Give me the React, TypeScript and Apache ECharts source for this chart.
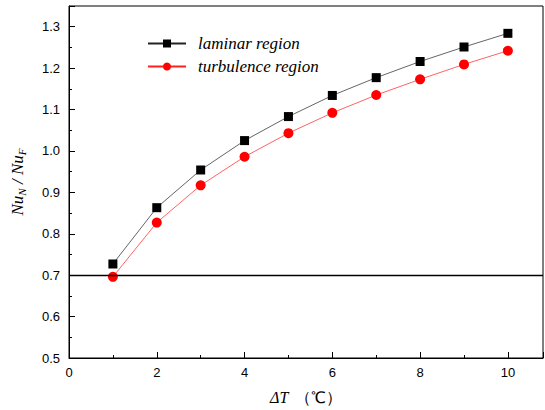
import React, { useEffect, useRef } from "react";
import * as echarts from "echarts";

const xValues = [1, 2, 3, 4, 5, 6, 7, 8, 9, 10];
const laminar = [0.727, 0.863, 0.954, 1.025, 1.083, 1.134, 1.177, 1.216, 1.251, 1.284];
const turbulence = [0.696, 0.827, 0.917, 0.986, 1.043, 1.092, 1.135, 1.173, 1.209, 1.242];
const seriesNames = ["laminar region", "turbulence region"];
const refLineY = 0.7;

export default function App() {
  const ref = useRef<HTMLDivElement>(null);
  useEffect(() => {
    if (!ref.current) return;
    const chart = echarts.init(ref.current, null, { renderer: "svg" });
    const sans = "Liberation Sans";
    const serif = "Liberation Serif";
    chart.setOption({
      animation: false,
      backgroundColor: "#ffffff",
      grid: {
        left: 69,
        right: 2,
        top: 6,
        bottom: 51,
        show: true,
        borderColor: "#000",
        borderWidth: 1,
        backgroundColor: "transparent",
      },
      legend: {
        orient: "vertical",
        left: 142,
        top: 30,
        itemWidth: 38,
        itemHeight: 10,
        itemGap: 6,
        data: seriesNames,
        textStyle: {
          fontFamily: serif,
          fontStyle: "italic",
          fontSize: 17,
          color: "#000",
          padding: [0, 0, 0, 7],
        },
      },
      xAxis: {
        type: "value",
        min: 0,
        max: 10.8,
        interval: 2,
        name: "{it|ΔT}  {n|（℃）}",
        nameLocation: "middle",
        nameGap: 31,
        nameTextStyle: {
          rich: {
            it: { fontFamily: serif, fontStyle: "italic", fontSize: 16, color: "#000" },
            n: { fontFamily: serif, fontSize: 16, color: "#000" },
          },
        },
        axisLine: { show: true, lineStyle: { color: "#000", width: 1 } },
        axisTick: { show: true, inside: true, length: 6, lineStyle: { color: "#000" } },
        minorTick: { show: true, splitNumber: 2, length: 3, lineStyle: { color: "#000" } },
        splitLine: { show: false },
        axisLabel: { showMaxLabel: false, fontFamily: sans, fontSize: 13, color: "#000", margin: 8 },
      },
      yAxis: {
        type: "value",
        min: 0.5,
        max: 1.35,
        interval: 0.1,
        name: "{it|Nu}{sub|N}{it| / Nu}{sub|F}",
        nameLocation: "middle",
        nameGap: 42,
        nameRotate: 90,
        nameTextStyle: {
          rich: {
            it: { fontFamily: serif, fontStyle: "italic", fontSize: 17, color: "#000" },
            sub: { fontFamily: serif, fontStyle: "italic", fontSize: 11, color: "#000", verticalAlign: "bottom", padding: [9, 0, 0, 0] },
          },
        },
        axisLine: { show: true, lineStyle: { color: "#000", width: 1 } },
        axisTick: { show: true, inside: true, length: 6, lineStyle: { color: "#000" } },
        minorTick: { show: true, splitNumber: 2, length: 3, lineStyle: { color: "#000" } },
        splitLine: { show: false },
        axisLabel: {
          showMaxLabel: false,
          fontFamily: sans,
          fontSize: 13,
          color: "#000",
          margin: 9,
          formatter: (v: number) => v.toFixed(1),
        },
      },
      series: [
        {
          name: seriesNames[0],
          type: "line",
          data: xValues.map((x, i) => [x, laminar[i]]),
          symbol: "rect",
          symbolSize: 9,
          itemStyle: { color: "#000" },
          lineStyle: { color: "#222", width: 0.7 },
          markLine: {
            silent: true,
            symbol: "none",
            label: { show: false },
            lineStyle: { color: "#000", width: 1.3, type: "solid" },
            data: [{ yAxis: refLineY }],
          },
          z: 3,
        },
        {
          name: seriesNames[1],
          type: "line",
          data: xValues.map((x, i) => [x, turbulence[i]]),
          symbol: "circle",
          symbolSize: 10,
          itemStyle: { color: "#ff0000" },
          lineStyle: { color: "#ff2020", width: 0.7 },
          z: 4,
        },
      ],
    });
    return () => chart.dispose();
  }, []);
  return (
    <div
      ref={ref}
      style={{ position: "fixed", left: 0, top: 0, width: 545, height: 410 }}
    />
  );
}
